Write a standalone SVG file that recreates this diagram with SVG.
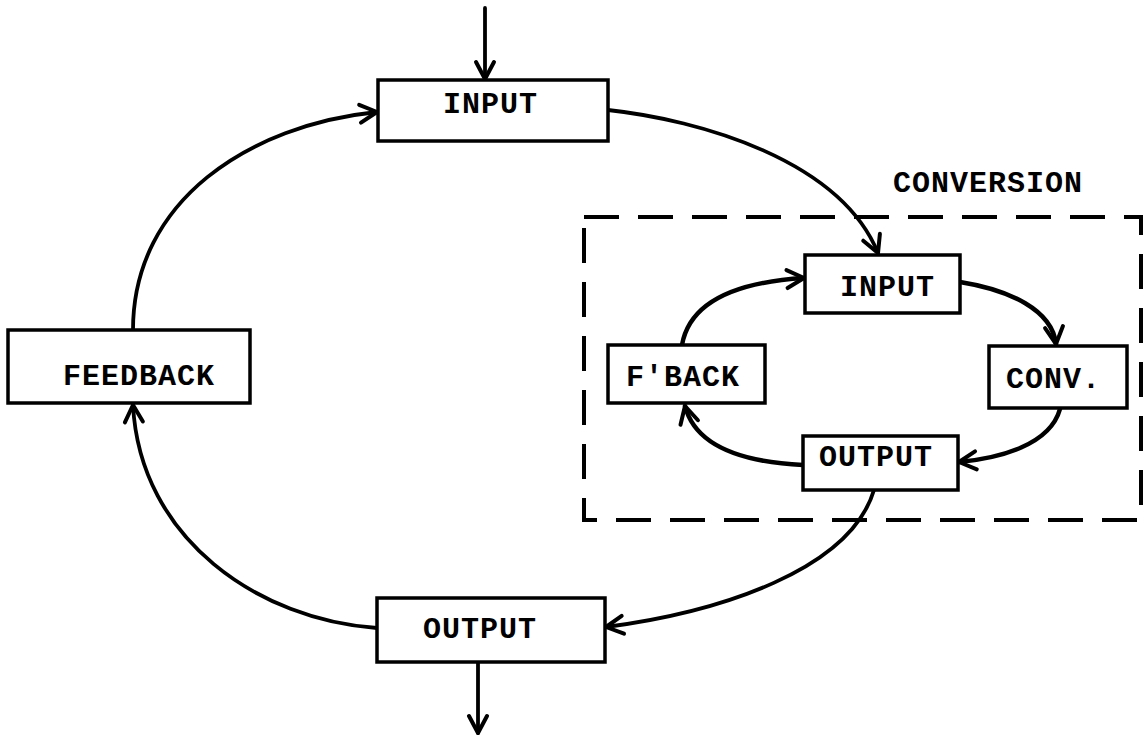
<svg xmlns="http://www.w3.org/2000/svg" width="1145" height="735" viewBox="0 0 1145 735">
  <defs>
    <marker id="arrow" markerUnits="userSpaceOnUse" orient="auto" markerWidth="40" markerHeight="40" viewBox="-20 -20 40 40" refX="0" refY="0" overflow="visible">
      <path d="M-17,-9 L0,0 L-17,9" fill="none" stroke="#000" stroke-width="4" stroke-linecap="round" stroke-linejoin="round"/>
    </marker>
    <style>
      .box { fill: #fff; stroke: #000; stroke-width: 3.5; }
      .lbl { font-family: "Liberation Mono", "Courier New", monospace; font-weight: bold; font-size: 30px; fill: #000; letter-spacing: 1px; }
      .wire { fill: none; stroke: #000; stroke-width: 3.8; stroke-linecap: round; marker-end: url(#arrow); }
      .wire.thick { stroke-width: 4.5; }
      .frame { fill: none; stroke: #000; stroke-width: 4; stroke-dasharray: 35 19; }
    </style>
  </defs>

  <rect width="1145" height="735" fill="#fff"/>

  <!-- conversion subsystem boundary -->
  <g id="conversion">
    <rect class="frame" x="584" y="217" width="557" height="303"/>
    <text class="lbl" x="893" y="192" letter-spacing="0.5">CONVERSION</text>
  </g>

  <!-- connectors -->
  <g id="connectors">
    <path class="wire" d="M485,8 L485,79"/>
    <path class="wire" d="M133,330 C133,200 250,125 377,112"/>
    <path class="wire" d="M377,628 C260,620 140,540 133,405"/>
    <path class="wire" d="M608,110 C700,120 840,160 878,253"/>
    <path class="wire" d="M874,490 C850,570 720,612 606,627"/>
    <path class="wire" d="M478,662 L478,733"/>

    <path class="wire thick" d="M682,345 C690,300 740,282 804,278"/>
    <path class="wire thick" d="M960,282 C1010,290 1052,310 1056,344"/>
    <path class="wire thick" d="M1060,409 C1050,445 1000,458 959,462"/>
    <path class="wire thick" d="M803,465 C740,462 695,445 685,406"/>
  </g>

  <!-- outer loop -->
  <g id="input">
    <rect class="box" x="378" y="80" width="230" height="61"/>
    <text class="lbl" x="443" y="113">INPUT</text>
  </g>
  <g id="feedback">
    <rect class="box" x="8" y="330" width="242" height="73"/>
    <text class="lbl" x="63" y="385" letter-spacing="2">FEEDBACK</text>
  </g>
  <g id="output">
    <rect class="box" x="377" y="598" width="228" height="64"/>
    <text class="lbl" x="423" y="638">OUTPUT</text>
  </g>

  <!-- inner loop -->
  <g id="inner-input">
    <rect class="box" x="805" y="255" width="155" height="58"/>
    <text class="lbl" x="840" y="296">INPUT</text>
  </g>
  <g id="inner-feedback">
    <rect class="box" x="608" y="345" width="157" height="58"/>
    <text class="lbl" x="626" y="386" letter-spacing="2">F'BACK</text>
  </g>
  <g id="inner-conv">
    <rect class="box" x="989" y="346" width="138" height="62"/>
    <text class="lbl" x="1006" y="388">CONV.</text>
  </g>
  <g id="inner-output">
    <rect class="box" x="803" y="436" width="155" height="54"/>
    <text class="lbl" x="819" y="466">OUTPUT</text>
  </g>
</svg>
